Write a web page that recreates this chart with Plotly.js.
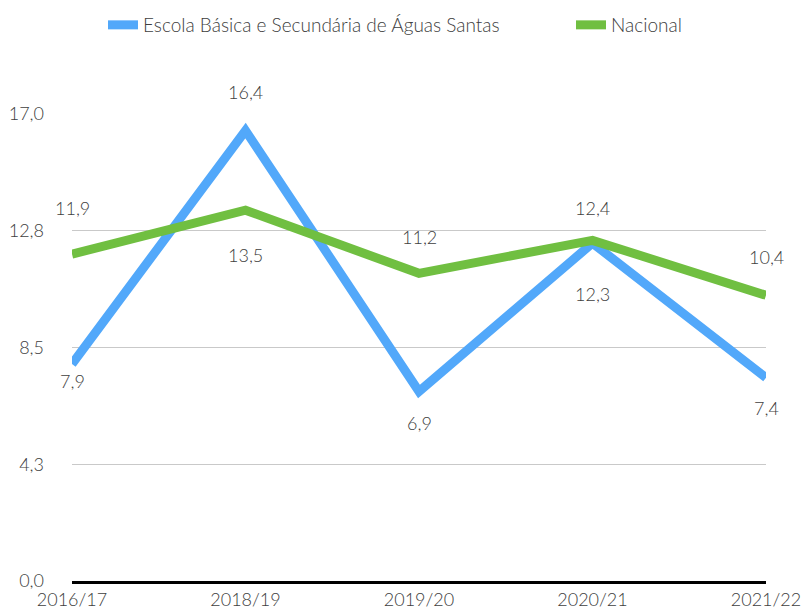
<!DOCTYPE html>
<html>
<head>
<meta charset="utf-8">
<script src="https://cdn.plot.ly/plotly-3.0.1.min.js"></script>
<style>html,body{margin:0;padding:0;background:#fff;}#chart{width:803px;height:612px;}</style>
</head>
<body>
<div id="chart"></div>
<script>
const categories = ['2016/17', '2018/19', '2019/20', '2020/21', '2021/22'];
const seriesNames = ['Escola Básica e Secundária de Águas Santas', 'Nacional'];
const escolaValues = [7.9, 16.4, 6.9, 12.3, 7.4];
const nacionalValues = [11.9, 13.5, 11.2, 12.4, 10.4];
const yTickVals = [0, 4.25, 8.5, 12.75, 17];

// label offsets (style only, in px)
const escolaLabelShift = [-17, 38, -32, -51, -30];
const nacionalLabelShift = [46, -45, 36, 32, 38];

const FONT = 'Lato, "Open Sans", sans-serif';
const TXT = '#404040';
const BLUE = '#52A8FA';
const GREEN = '#70BF41';

const fmt = v => v.toFixed(1).replace('.', ',');

const traces = [
  {x: categories, y: escolaValues, name: seriesNames[0], type: 'scatter', mode: 'lines',
   line: {color: BLUE, width: 9}, legend: 'legend'},
  {x: categories, y: nacionalValues, name: seriesNames[1], type: 'scatter', mode: 'lines',
   line: {color: GREEN, width: 9}, legend: 'legend2'}
];

const annotations = [];
[[escolaValues, escolaLabelShift], [nacionalValues, nacionalLabelShift]].forEach(([vals, shifts]) => {
  vals.forEach((v, i) => {
    annotations.push({x: categories[i], y: v, xref: 'x', yref: 'y', text: fmt(v),
      showarrow: false, yshift: shifts[i], font: {family: FONT, size: 18, color: TXT, weight: 300}});
  });
});

const legendFont = {family: FONT, size: 19, color: TXT, weight: 300};
const layout = {
  width: 803, height: 612,
  margin: {l: 72, r: 37, t: 114, b: 31},
  paper_bgcolor: '#fff', plot_bgcolor: '#fff',
  font: {family: FONT, size: 18, color: TXT, weight: 300},
  separators: ',.',
  showlegend: true,
  legend: {orientation: 'h', xref: 'container', x: 103/803, xanchor: 'left',
    yref: 'container', y: 1 - 25/612, yanchor: 'middle', font: legendFont, bgcolor: 'rgba(0,0,0,0)'},
  legend2: {orientation: 'h', xref: 'container', x: 571/803, xanchor: 'left',
    yref: 'container', y: 1 - 25/612, yanchor: 'middle', font: legendFont, bgcolor: 'rgba(0,0,0,0)'},
  xaxis: {type: 'category', range: [0, 4], showgrid: false, zeroline: false,
    showline: true, linecolor: '#000', linewidth: 3, ticks: '', fixedrange: true,
    ticklabelstandoff: 0,
    tickfont: {family: FONT, size: 18, color: TXT, weight: 300}},
  yaxis: {range: [0, 17], tickvals: yTickVals, tickformat: '.1f', showgrid: true,
    gridcolor: '#c9c9c9', gridwidth: 1, zeroline: false, showline: false, ticks: '',
    ticklabelstandoff: 27, tickfont: {family: FONT, size: 18, color: TXT, weight: 300}},
  annotations: annotations
};

Plotly.newPlot('chart', traces, layout, {displayModeBar: false, staticPlot: true});
</script>
</body>
</html>
